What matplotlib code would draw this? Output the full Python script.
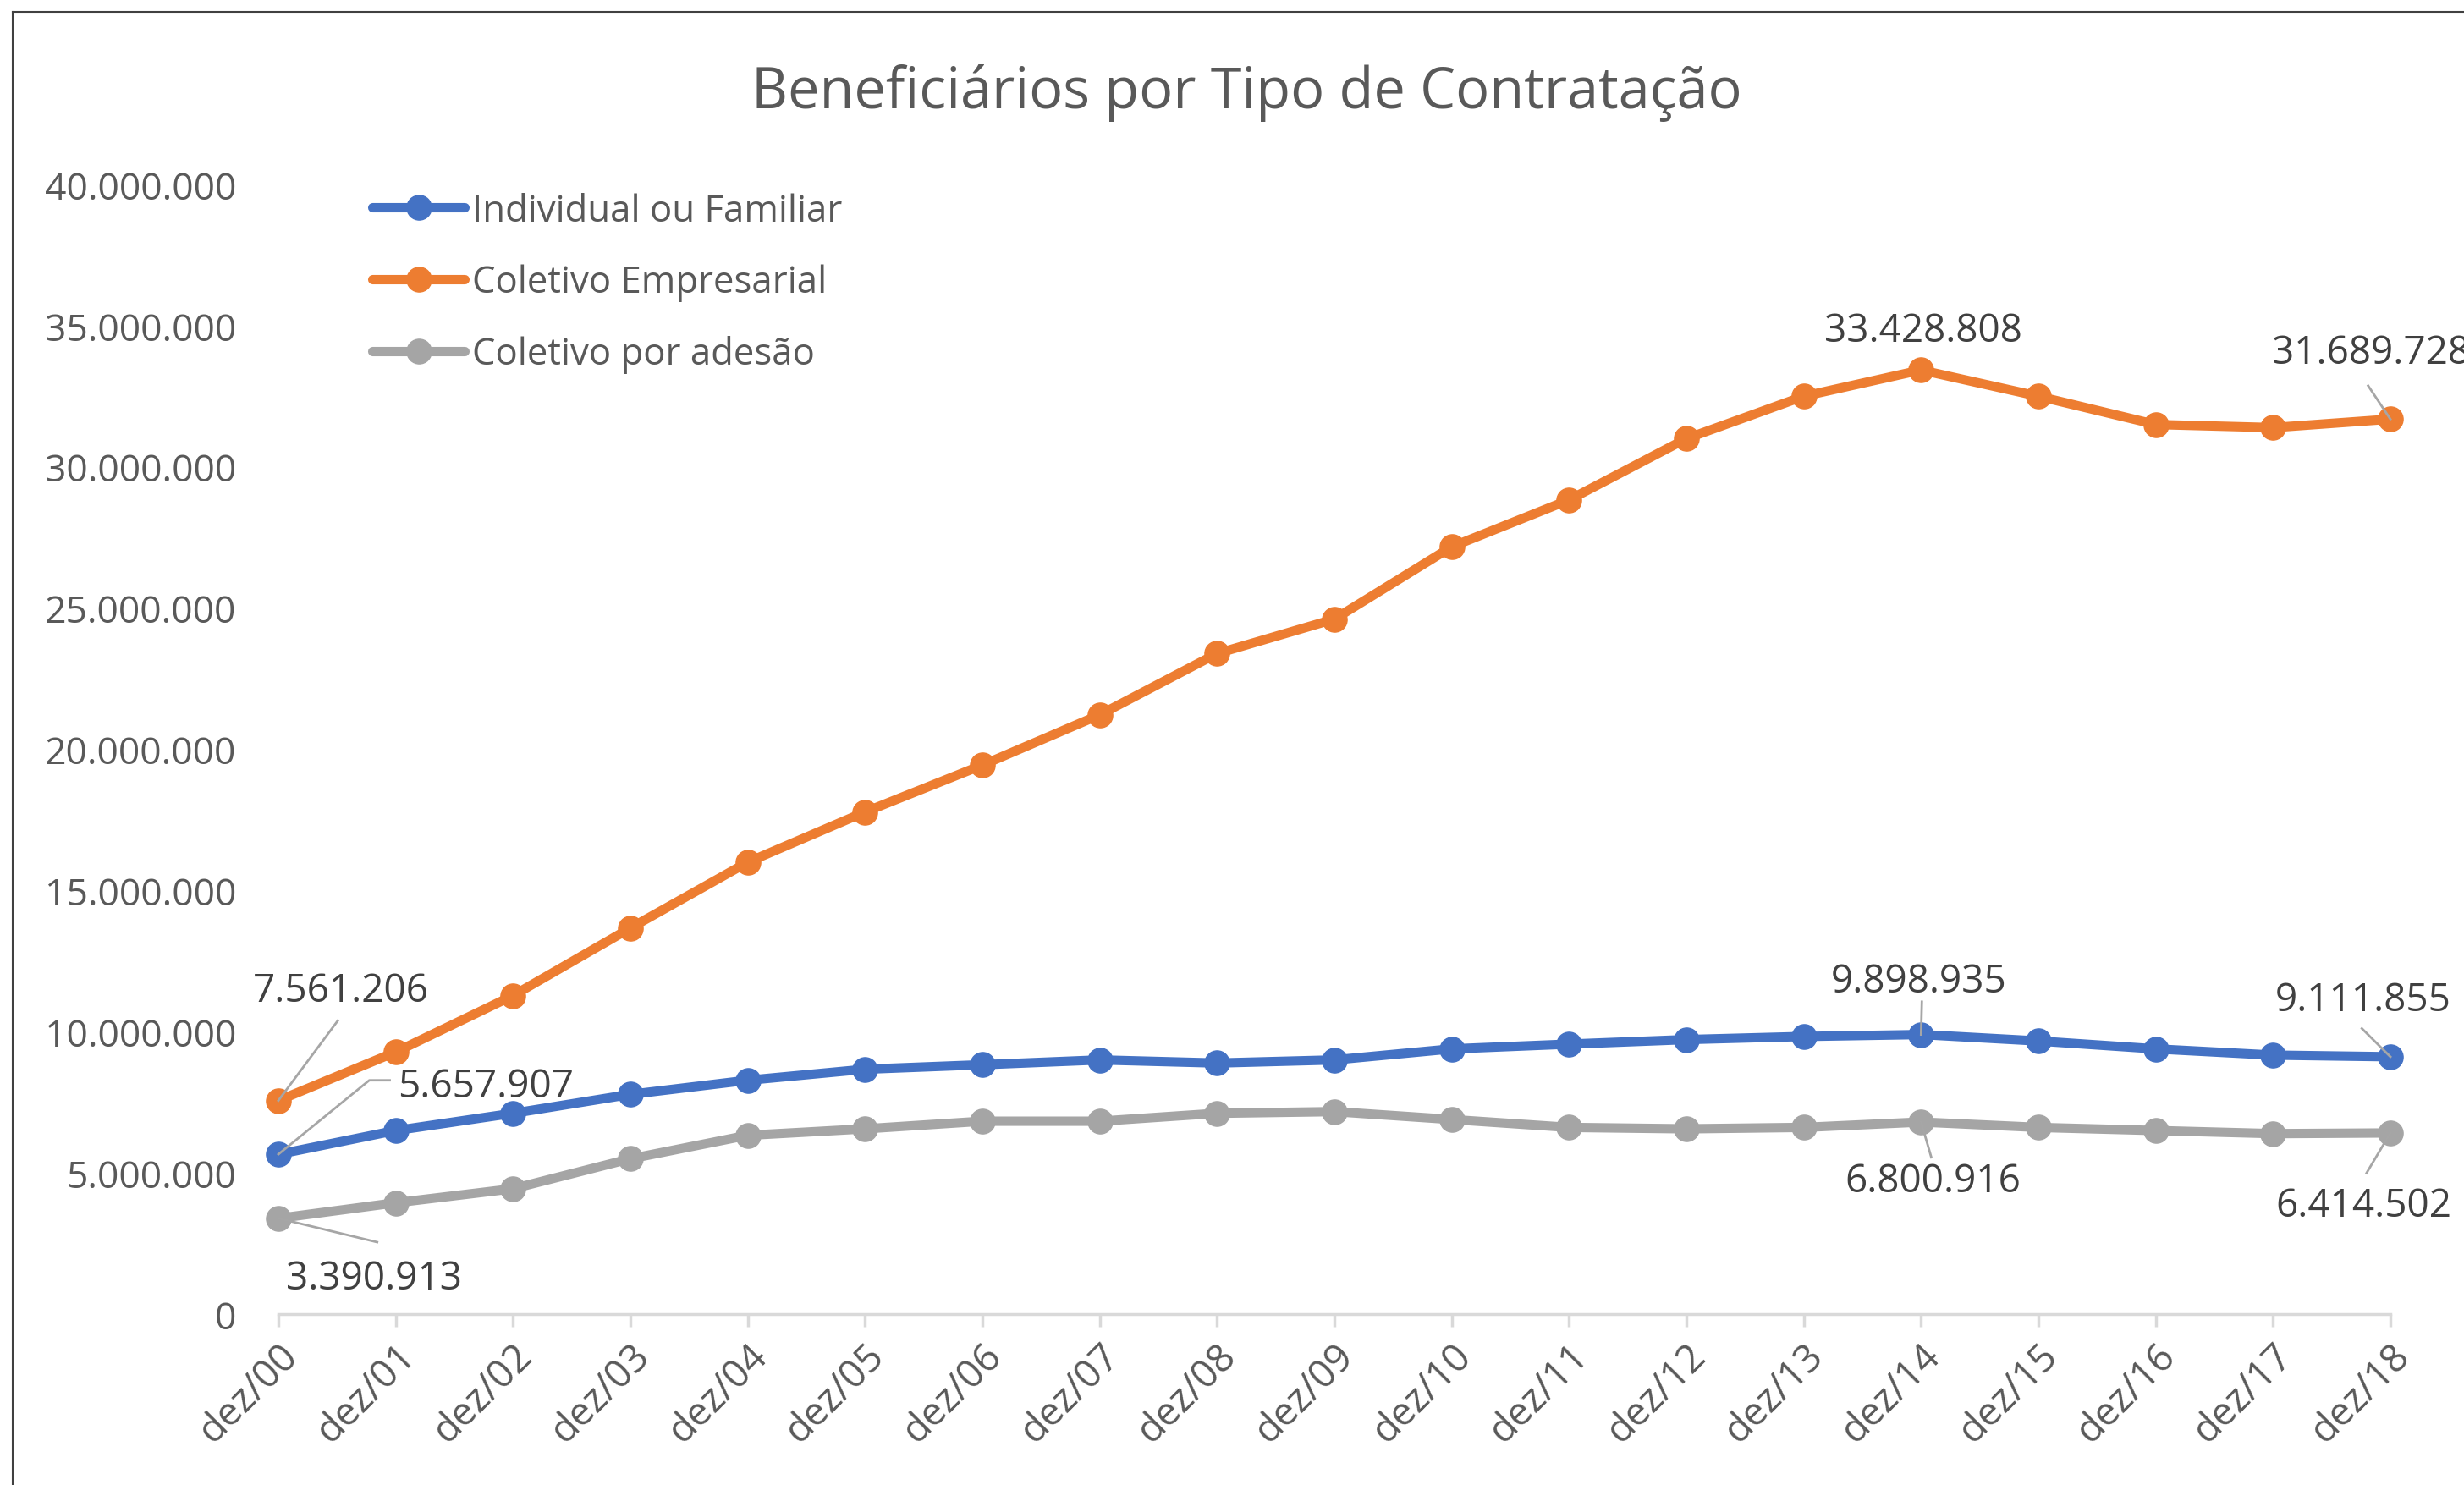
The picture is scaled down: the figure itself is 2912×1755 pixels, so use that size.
import matplotlib
matplotlib.use("Agg")
import matplotlib.pyplot as plt
from matplotlib.lines import Line2D

plt.rcParams['font.family'] = ['Open Sans', 'DejaVu Sans']

categories = ["dez/00", "dez/01", "dez/02", "dez/03", "dez/04", "dez/05", "dez/06",
              "dez/07", "dez/08", "dez/09", "dez/10", "dez/11", "dez/12", "dez/13",
              "dez/14", "dez/15", "dez/16", "dez/17", "dez/18"]

individual = [5657907, 6500000, 7110000, 7780000, 8280000, 8670000, 8830000, 9000000,
              8890000, 9000000, 9390000, 9560000, 9720000, 9830000, 9898935, 9670000,
              9390000, 9170000, 9111855]
empresarial = [7561206, 9280000, 11280000, 13670000, 16000000, 17780000, 19440000,
               21220000, 23390000, 24610000, 27170000, 28830000, 31000000, 32500000,
               33428808, 32500000, 31500000, 31390000, 31689728]
adesao = [3390913, 3940000, 4440000, 5500000, 6330000, 6560000, 6830000, 6830000,
          7110000, 7170000, 6890000, 6610000, 6560000, 6610000, 6800916, 6610000,
          6500000, 6390000, 6414502]

series_names = ["Individual ou Familiar", "Coletivo Empresarial", "Coletivo por adesão"]
colors = ["#4472C4", "#ED7D31", "#A5A5A5"]
yticks = [0, 5000000, 10000000, 15000000, 20000000, 25000000, 30000000, 35000000, 40000000]


def fmt(v):
    return f"{v:,.0f}".replace(",", ".")


W, H = 2912, 1756
fig = plt.figure(figsize=(W / 100, H / 100), dpi=100)
ax = fig.add_axes([329 / W, 1 - 1554 / H, (2825 - 329) / W, (1554 - 219) / H])

x = list(range(len(categories)))
handles = []
for vals, name, c in zip([individual, empresarial, adesao], series_names, colors):
    h, = ax.plot(x, vals, color=c, lw=8, marker='o', ms=21, label=name,
                 solid_capstyle='round', clip_on=False, zorder=3)
    handles.append(h)

ax.set_xlim(0, len(categories) - 1)
ax.set_ylim(0, 40000000)
ax.set_yticks(yticks)
ax.set_yticklabels([fmt(v) if v else "0" for v in yticks])
ax.set_xticks(x)
ax.set_xticklabels(categories, rotation=45, ha='right', rotation_mode='anchor')

for s in ['top', 'right', 'left']:
    ax.spines[s].set_visible(False)
ax.spines['bottom'].set_color('#D9D9D9')
ax.spines['bottom'].set_linewidth(2.5)
ax.tick_params(axis='y', length=0, pad=36, labelsize=32, labelcolor='#595959')
ax.tick_params(axis='x', length=11, width=2.5, color='#D9D9D9', pad=8,
               labelsize=33, labelcolor='#595959')

fig.text(1473 / W, 1 - 110 / H, "Beneficiários por Tipo de Contratação",
         ha='center', va='center', fontsize=48, color='#595959')

leg = ax.legend(handles=handles, loc='upper left', frameon=False,
                bbox_to_anchor=(440 / W, 1 - 228 / H), bbox_transform=fig.transFigure,
                fontsize=31.5, handlelength=2.5, handletextpad=0.2, labelspacing=0.92,
                borderpad=0, borderaxespad=0)
for t in leg.get_texts():
    t.set_color('#595959')

# data labels (text pos in shrunk-px offsets converted to points)
s = 2912 / 1568
lab_col = '#404040'
lead_col = '#A6A6A6'
labels = [
    (empresarial, 0, (217, 631), 'center', [(215, 650)]),
    (individual, 0, (253, 692), 'left', [(235, 688), (248, 688)]),
    (adesao, 0, (238, 814), 'center', [(240, 791)]),
    (empresarial, 14, (1224, 211), 'center', []),
    (empresarial, 18, (1446, 225), 'left', [(1507, 246)]),
    (individual, 14, (1221, 625), 'center', [(1223, 638)]),
    (individual, 18, (1504, 637), 'center', [(1503, 655)]),
    (adesao, 14, (1230, 752), 'center', [(1229, 737)]),
    (adesao, 18, (1504, 768), 'center', [(1506, 747)]),
]
for vals, i, (tx, ty), ha, lead in labels:
    ax.text(tx * s / W, 1 - ty * s / H, fmt(vals[i]), transform=fig.transFigure,
            ha=ha, va='center', fontsize=33, color=lab_col, zorder=5)
    if lead:
        px, py = ax.transData.transform((i, vals[i]))
        xs = [px / W] + [p[0] * s / W for p in lead]
        ys = [py / H] + [1 - p[1] * s / H for p in lead]
        fig.add_artist(Line2D(xs, ys, color=lead_col, lw=2, zorder=6))

# chart frame (left and top edges)
fig.add_artist(Line2D([15 / W, 15 / W], [0, 1 - 15 / H], color='#404040', lw=1.5))
fig.add_artist(Line2D([15 / W, 1], [1 - 15 / H, 1 - 15 / H], color='#404040', lw=1.5))

fig.savefig("out.png", dpi=100, facecolor='white')
